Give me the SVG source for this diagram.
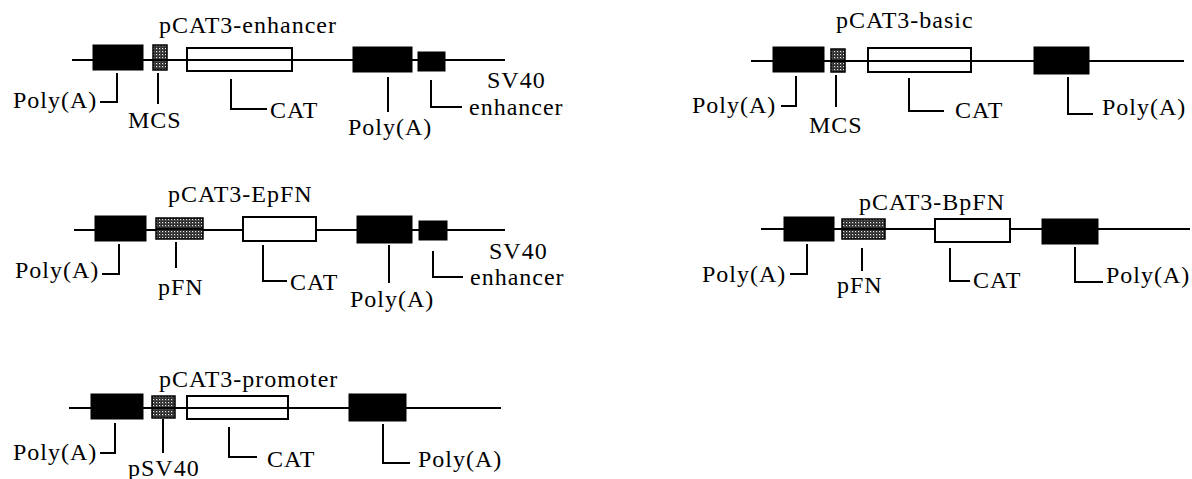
<svg xmlns="http://www.w3.org/2000/svg" width="1192" height="479" viewBox="0 0 1192 479">
  <style>
    .bb { stroke: #000; stroke-width: 2; fill: none; }
    .blk { fill: #000; stroke: #000; stroke-width: 1; }
    .dot { fill: url(#stipple); stroke: #000; stroke-width: 1.5; }
    .cat { fill: #fff; stroke: #000; stroke-width: 2; }
    .catn { fill: none; stroke: #000; stroke-width: 2; }
    .ld { stroke: #000; stroke-width: 2; fill: none; }
    text { font-family: "Liberation Serif", "Times New Roman", serif; font-size: 24px; letter-spacing: 1px; fill: #000; }
  </style>
  <defs>
    <!-- dark stippled fill for promoter / MCS elements -->
    <pattern id="stipple" width="3" height="3" patternUnits="userSpaceOnUse">
      <rect width="3" height="3" fill="#262626"/>
      <rect width="1.2" height="1.2" fill="#f0f0f0"/>
      <rect x="1.5" y="1.5" width="0.8" height="0.8" fill="#9a9a9a"/>
    </pattern>
  </defs>

  <!-- pCAT3-enhancer -->
  <g id="pCAT3-enhancer">
    <line class="bb" x1="72" y1="60" x2="505" y2="60"/>
    <rect class="blk" x="93" y="45" width="50" height="25"/>
    <rect class="dot" x="153" y="45" width="14" height="25"/>
    <rect class="catn" x="187" y="48" width="105" height="23"/>
    <rect class="blk" x="353" y="47" width="59" height="25"/>
    <rect class="blk" x="418" y="52" width="27" height="19"/>
    <line class="bb" x1="153" y1="60" x2="167" y2="60"/>
    <text x="159" y="33">pCAT3-enhancer</text>
    <text x="13" y="108">Poly(A)</text>
    <text x="128" y="128">MCS</text>
    <text x="270" y="118">CAT</text>
    <text x="348" y="135">Poly(A)</text>
    <text x="487" y="88">SV40</text>
    <text x="469" y="115">enhancer</text>
  </g>

  <!-- pCAT3-basic -->
  <g id="pCAT3-basic">
    <line class="bb" x1="751" y1="61" x2="1184" y2="61"/>
    <rect class="blk" x="773" y="47" width="51" height="25"/>
    <rect class="dot" x="831" y="49" width="14" height="23"/>
    <rect class="catn" x="868" y="48" width="103" height="24"/>
    <rect class="blk" x="1034" y="47" width="55" height="27"/>
    <line class="bb" x1="831" y1="61" x2="845" y2="61"/>
    <text x="836" y="28">pCAT3-basic</text>
    <text x="692" y="113">Poly(A)</text>
    <text x="809" y="133">MCS</text>
    <text x="955" y="118">CAT</text>
    <text x="1102" y="115">Poly(A)</text>
  </g>

  <!-- pCAT3-EpFN -->
  <g id="pCAT3-EpFN">
    <line class="bb" x1="74" y1="230" x2="505" y2="230"/>
    <rect class="blk" x="95" y="216" width="51" height="25"/>
    <rect class="dot" x="156" y="218" width="47" height="21"/>
    <rect class="cat" x="243" y="217" width="73" height="24"/>
    <rect class="blk" x="357" y="216" width="55" height="27"/>
    <rect class="blk" x="419" y="221" width="28" height="19"/>
    <line class="bb" x1="156" y1="229" x2="203" y2="229"/>
    <text x="168" y="202">pCAT3-EpFN</text>
    <text x="15" y="278">Poly(A)</text>
    <text x="158" y="295">pFN</text>
    <text x="290" y="290">CAT</text>
    <text x="350" y="307">Poly(A)</text>
    <text x="489" y="259">SV40</text>
    <text x="470" y="285">enhancer</text>
  </g>

  <!-- pCAT3-BpFN -->
  <g id="pCAT3-BpFN">
    <line class="bb" x1="761" y1="229" x2="1190" y2="229"/>
    <rect class="blk" x="784" y="217" width="50" height="24"/>
    <rect class="dot" x="842" y="219" width="43" height="20"/>
    <rect class="cat" x="935" y="219" width="75" height="23"/>
    <rect class="blk" x="1042" y="219" width="56" height="25"/>
    <line class="bb" x1="842" y1="229" x2="885" y2="229"/>
    <text x="859" y="210">pCAT3-BpFN</text>
    <text x="702" y="282">Poly(A)</text>
    <text x="837" y="293">pFN</text>
    <text x="973" y="288">CAT</text>
    <text x="1106" y="283">Poly(A)</text>
  </g>

  <!-- pCAT3-promoter -->
  <g id="pCAT3-promoter">
    <line class="bb" x1="69" y1="408" x2="501" y2="408"/>
    <rect class="blk" x="91" y="394" width="52" height="25"/>
    <rect class="dot" x="152" y="396" width="23" height="22"/>
    <rect class="catn" x="187" y="396" width="101" height="23"/>
    <rect class="blk" x="349" y="394" width="57" height="27"/>
    <line class="bb" x1="152" y1="408" x2="175" y2="408"/>
    <text x="159" y="387">pCAT3-promoter</text>
    <text x="13" y="460">Poly(A)</text>
    <text x="128" y="476">pSV40</text>
    <text x="267" y="467">CAT</text>
    <text x="418" y="467">Poly(A)</text>
  </g>

  <!-- label leaders -->
  <g id="connectors">
    <path class="ld" d="M117 73 V102 H100"/>
    <path class="ld" d="M158 73 V104"/>
    <path class="ld" d="M231 79 V109 H267"/>
    <path class="ld" d="M388 77 V112"/>
    <path class="ld" d="M431 80 V107 H462"/>

    <path class="ld" d="M796 76 V106 H781"/>
    <path class="ld" d="M836 75 V107"/>
    <path class="ld" d="M909 78 V111 H944"/>
    <path class="ld" d="M1068 77 V114 H1093"/>

    <path class="ld" d="M119 244 V274 H102"/>
    <path class="ld" d="M176 242 V268"/>
    <path class="ld" d="M263 245 V281 H287"/>
    <path class="ld" d="M389 245 V283"/>
    <path class="ld" d="M433 251 V277 H463"/>

    <path class="ld" d="M807 244 V274 H790"/>
    <path class="ld" d="M862 248 V271"/>
    <path class="ld" d="M950 248 V281 H970"/>
    <path class="ld" d="M1075 247 V282 H1103"/>

    <path class="ld" d="M115 423 V453 H100"/>
    <path class="ld" d="M163 419 V453"/>
    <path class="ld" d="M229 427 V457 H257"/>
    <path class="ld" d="M383 424 V463 H410"/>
  </g>
</svg>
